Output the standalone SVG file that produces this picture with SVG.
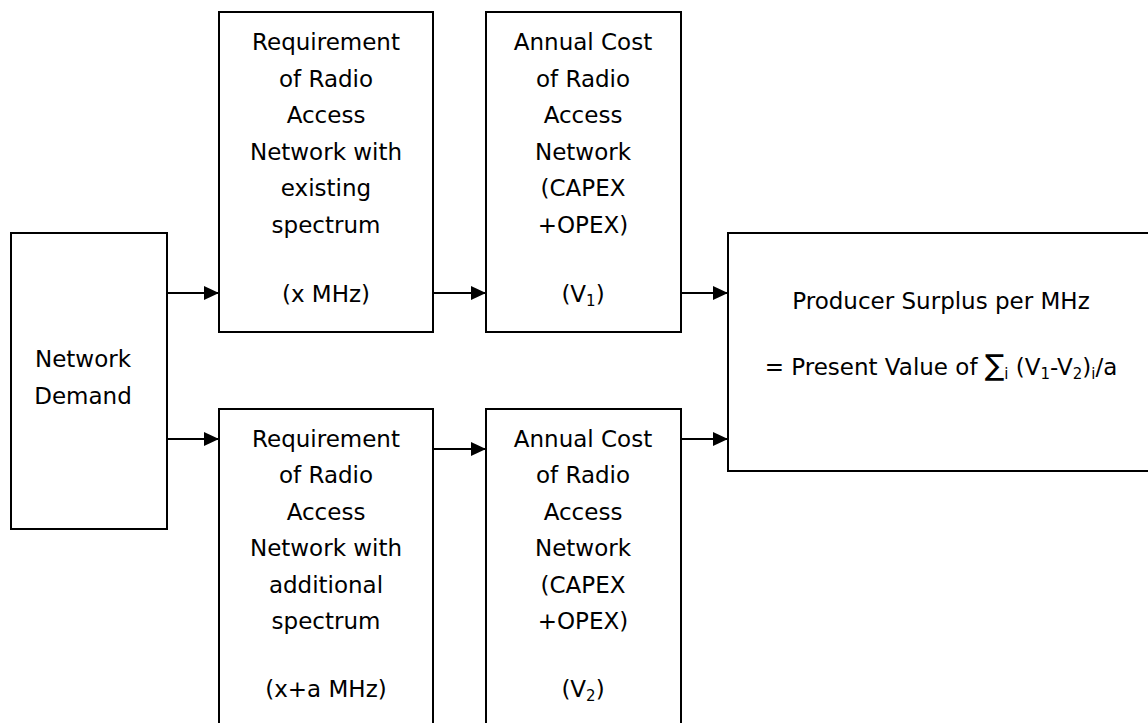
<svg xmlns="http://www.w3.org/2000/svg" width="1148" height="723" viewBox="0 0 1148 723">
  <style>
    .box { fill: #fff; stroke: #000; stroke-width: 2; }
    .lbl { font-family: "DejaVu Sans", Verdana, sans-serif; font-size: 23px; fill: #000; text-anchor: middle; }
    .sub { font-size: 15px; }
    .sum { font-size: 29px; }
    .conn { stroke: #000; stroke-width: 2; fill: none; marker-end: url(#arrow); }
  </style>
  <defs>
    <marker id="arrow" markerUnits="userSpaceOnUse" markerWidth="15" markerHeight="14" refX="15" refY="7" orient="auto">
      <path d="M0,0 L15,7 L0,14 z" fill="#000"/>
    </marker>
  </defs>
  <rect width="1148" height="723" fill="#fff"/>

  <!-- demand source -->
  <g id="network-demand">
    <rect class="box" x="11" y="233" width="156" height="296"/>
    <text class="lbl" x="83" y="367">Network</text>
    <text class="lbl" x="83" y="404">Demand</text>
  </g>

  <!-- upper branch: existing spectrum -->
  <g id="req-existing">
    <rect class="box" x="219" y="12" width="214" height="320"/>
    <text class="lbl" x="326" y="50">Requirement</text>
    <text class="lbl" x="326" y="86.5">of Radio</text>
    <text class="lbl" x="326" y="123">Access</text>
    <text class="lbl" x="326" y="159.5">Network with</text>
    <text class="lbl" x="326" y="196">existing</text>
    <text class="lbl" x="326" y="232.5">spectrum</text>
    <text class="lbl" x="326" y="302">(x MHz)</text>
  </g>

  <g id="cost-existing">
    <rect class="box" x="486" y="12" width="195" height="320"/>
    <text class="lbl" x="583" y="50">Annual Cost</text>
    <text class="lbl" x="583" y="86.5">of Radio</text>
    <text class="lbl" x="583" y="123">Access</text>
    <text class="lbl" x="583" y="159.5">Network</text>
    <text class="lbl" x="583" y="196">(CAPEX</text>
    <text class="lbl" x="583" y="232.5">+OPEX)</text>
    <text class="lbl" x="583" y="302">(V<tspan class="sub" dy="4">1</tspan><tspan dy="-4">)</tspan></text>
  </g>

  <!-- lower branch: additional spectrum -->
  <g id="req-additional">
    <rect class="box" x="219" y="409" width="214" height="330"/>
    <text class="lbl" x="326" y="446.5">Requirement</text>
    <text class="lbl" x="326" y="483">of Radio</text>
    <text class="lbl" x="326" y="519.5">Access</text>
    <text class="lbl" x="326" y="556">Network with</text>
    <text class="lbl" x="326" y="592.5">additional</text>
    <text class="lbl" x="326" y="629">spectrum</text>
    <text class="lbl" x="326" y="697">(x+a MHz)</text>
  </g>

  <g id="cost-additional">
    <rect class="box" x="486" y="409" width="195" height="330"/>
    <text class="lbl" x="583" y="446.5">Annual Cost</text>
    <text class="lbl" x="583" y="483">of Radio</text>
    <text class="lbl" x="583" y="519.5">Access</text>
    <text class="lbl" x="583" y="556">Network</text>
    <text class="lbl" x="583" y="592.5">(CAPEX</text>
    <text class="lbl" x="583" y="629">+OPEX)</text>
    <text class="lbl" x="583" y="697">(V<tspan class="sub" dy="4">2</tspan><tspan dy="-4">)</tspan></text>
  </g>

  <!-- result -->
  <g id="producer-surplus">
    <rect class="box" x="728" y="233" width="430" height="238"/>
    <text class="lbl" x="941" y="309">Producer Surplus per MHz</text>
    <text class="lbl" x="941" y="375">= Present Value of <tspan class="sum">∑</tspan><tspan class="sub" dy="4">i</tspan><tspan dy="-4"> (V</tspan><tspan class="sub" dy="4">1</tspan><tspan dy="-4">-V</tspan><tspan class="sub" dy="4">2</tspan><tspan dy="-4">)</tspan><tspan class="sub" dy="4">i</tspan><tspan dy="-4">/a</tspan></text>
  </g>

  <g id="connectors">
    <line class="conn" x1="167" y1="293" x2="219" y2="293"/>
    <line class="conn" x1="167" y1="439" x2="219" y2="439"/>
    <line class="conn" x1="433" y1="293" x2="486" y2="293"/>
    <line class="conn" x1="433" y1="449" x2="486" y2="449"/>
    <line class="conn" x1="681" y1="293" x2="728" y2="293"/>
    <line class="conn" x1="681" y1="439" x2="728" y2="439"/>
  </g>
</svg>
